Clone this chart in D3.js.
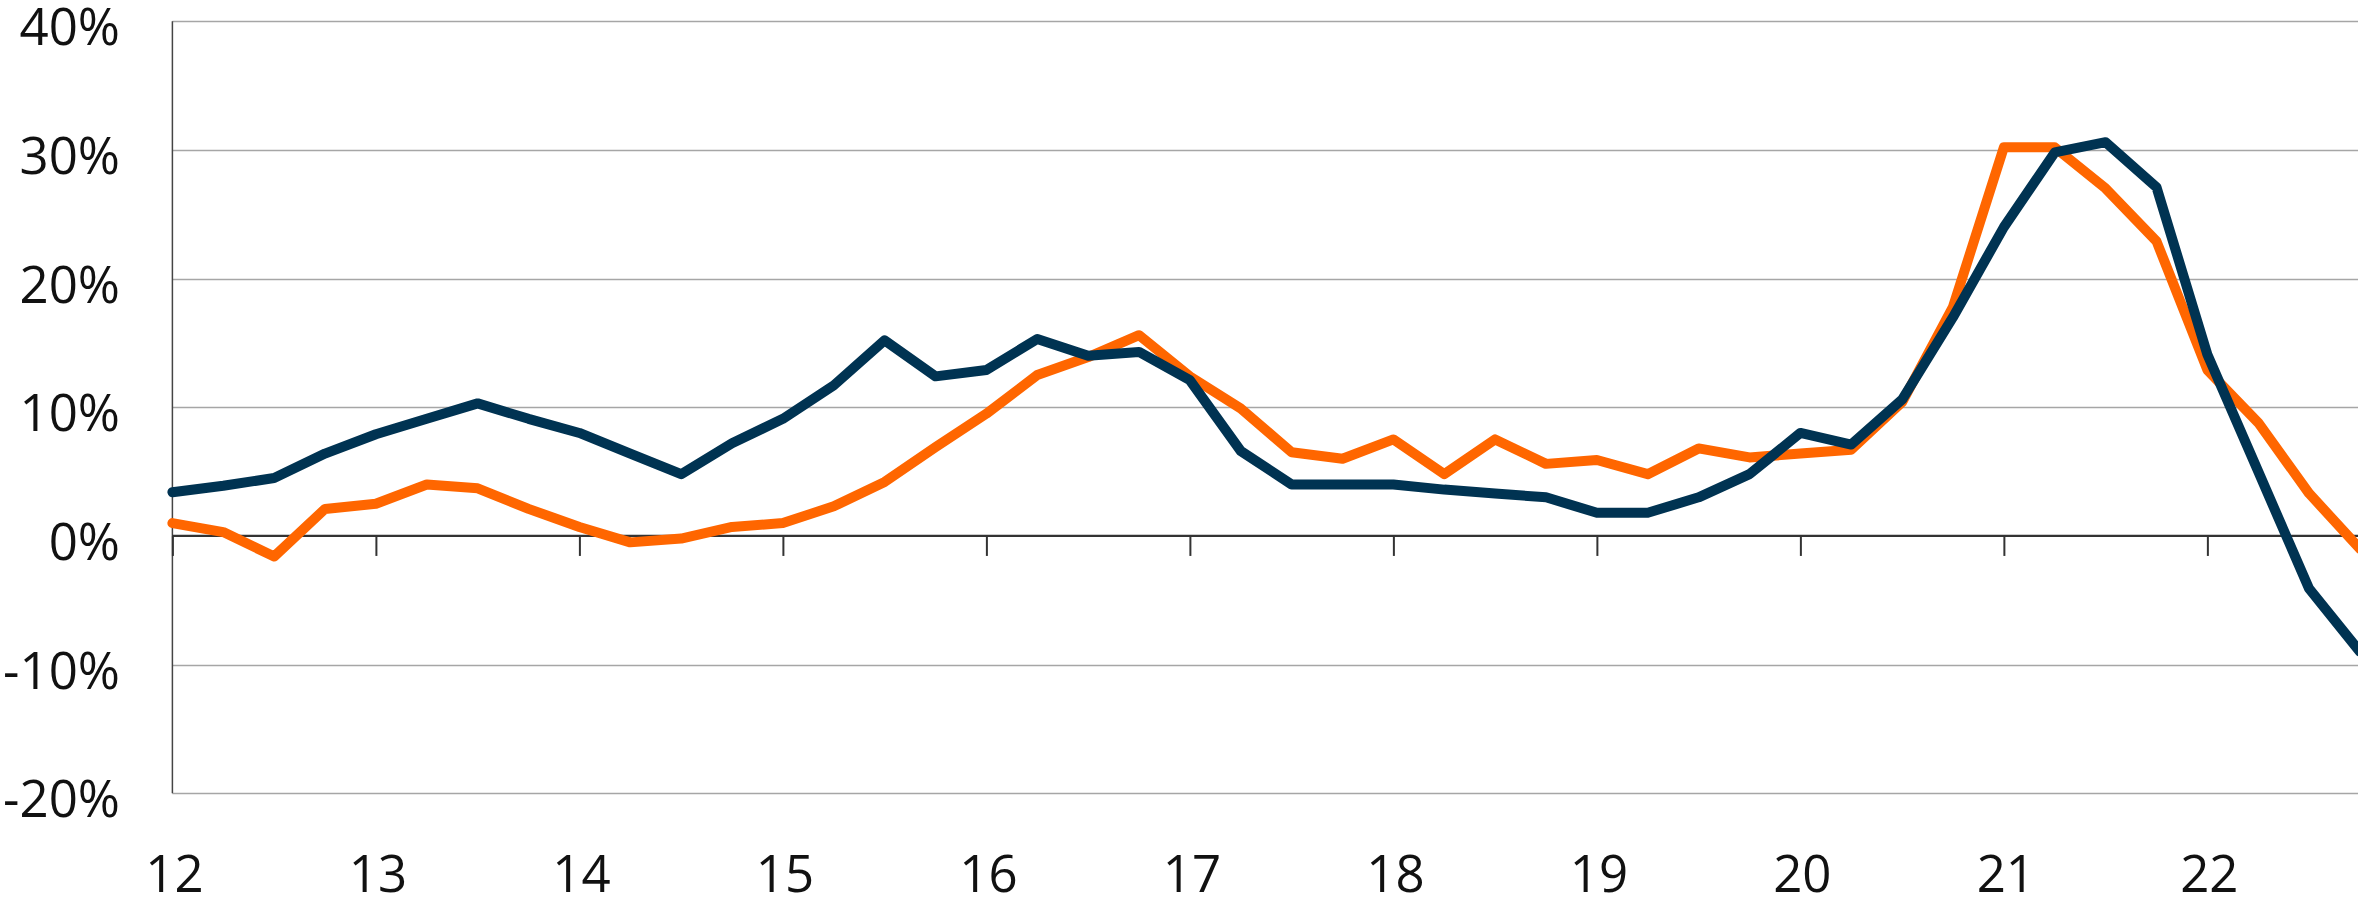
<!DOCTYPE html>
<html>
<head>
<meta charset="utf-8">
<script src="https://cdn.jsdelivr.net/npm/d3@7"></script>
<style>
  html, body { margin: 0; padding: 0; background: #ffffff; }
  svg { display: block; }
  text { font-family: "Open Sans", "Noto Sans", sans-serif; fill: #111; }
</style>
</head>
<body>
<svg id="chart" width="2358" height="900"></svg>
<script>
// Quarterly time points (years, 2012 .. 2022 Q4)
const quarters = d3.range(44).map(i => 12 + i * 0.25);

// Dark blue series (%)
const blueSeries = [
  3.4, 3.9, 4.5, 6.4, 7.9, 9.1, 10.3, 9.1, 8.0, 6.4, 4.8, 7.2,
  9.1, 11.7, 15.2, 12.4, 12.9, 15.3, 14.0, 14.3, 12.1, 6.6, 4.0, 4.0,
  4.0, 3.6, 3.3, 3.0, 1.8, 1.8, 3.0, 4.8, 8.0, 7.1, 10.6, 17.0,
  24.0, 29.8, 30.6, 27.1, 14.1, 5.0, -4.1, -9.0
];

// Orange series (%)
const orangeSeries = [
  1.0, 0.3, -1.6, 2.1, 2.5, 4.0, 3.7, 2.1, 0.7, -0.5, -0.2, 0.7,
  1.0, 2.3, 4.2, 6.9, 9.5, 12.5, 13.9, 15.6, 12.4, 9.9, 6.5, 6.0,
  7.5, 4.8, 7.5, 5.6, 5.9, 4.8, 6.8, 6.1, 6.4, 6.7, 10.4, 17.8,
  30.2, 30.2, 27.0, 22.9, 12.9, 8.8, 3.3, -1.0
];

const yearTicks = [12, 13, 14, 15, 16, 17, 18, 19, 20, 21, 22];
const yearLabels = ["12", "13", "14", "15", "16", "17", "18", "19", "20", "21", "22"];
const pctTicks = [-20, -10, 0, 10, 20, 30, 40];
const pctLabels = ["-20%", "-10%", "0%", "10%", "20%", "30%", "40%"];

const svg = d3.select("#chart");

const left = 172.4, right = 2360;
const x = d3.scaleLinear().domain([12, 22.75]).range([left, right]);
const y = d3.scaleLinear().domain([-20, 40]).range([793.3, 21.2]);

// Horizontal gridlines
svg.append("g")
  .selectAll("line")
  .data(pctTicks.filter(v => v !== 0))
  .join("line")
  .attr("x1", left).attr("x2", 2358)
  .attr("y1", d => Math.round(y(d)) + 0.5).attr("y2", d => Math.round(y(d)) + 0.5)
  .attr("stroke", "#a6a6a6").attr("stroke-width", 1.3);

// Y tick labels
svg.append("g")
  .selectAll("text")
  .data(pctTicks)
  .join("text")
  .attr("x", 120)
  .attr("y", d => y(d) + 24)
  .attr("text-anchor", "end")
  .attr("font-size", 51)
  .text((d, i) => pctLabels[i]);

// Left axis line
svg.append("line")
  .attr("x1", left).attr("x2", left)
  .attr("y1", y(40)).attr("y2", y(-20))
  .attr("stroke", "#444").attr("stroke-width", 1.5);

// Zero line with ticks via d3 axis
const xAxis = d3.axisBottom(x)
  .tickValues(yearTicks)
  .tickSize(20)
  .tickFormat("");
const gx = svg.append("g")
  .attr("transform", `translate(0,${y(0)})`)
  .call(xAxis);
gx.select(".domain").attr("stroke", "#333").attr("stroke-width", 2.2).attr("d", `M${left},0H2358`);
gx.selectAll(".tick line").attr("stroke", "#333").attr("stroke-width", 2);

// X tick labels
svg.append("g")
  .selectAll("text")
  .data(yearTicks)
  .join("text")
  .attr("x", d => x(d) + 2)
  .attr("y", 892)
  .attr("text-anchor", "middle")
  .attr("font-size", 51)
  .text((d, i) => yearLabels[i]);

// Lines
const line = d3.line().x(d => x(d[0])).y(d => y(d[1]));

svg.append("path")
  .datum(quarters.map((q, i) => [q, orangeSeries[i]]))
  .attr("d", line)
  .attr("fill", "none")
  .attr("stroke", "#ff6600")
  .attr("stroke-width", 10)
  .attr("stroke-linejoin", "round")
  .attr("stroke-linecap", "round");

svg.append("path")
  .datum(quarters.map((q, i) => [q, blueSeries[i]]))
  .attr("d", line)
  .attr("fill", "none")
  .attr("stroke", "#003352")
  .attr("stroke-width", 10)
  .attr("stroke-linejoin", "round")
  .attr("stroke-linecap", "round");
</script>
</body>
</html>
